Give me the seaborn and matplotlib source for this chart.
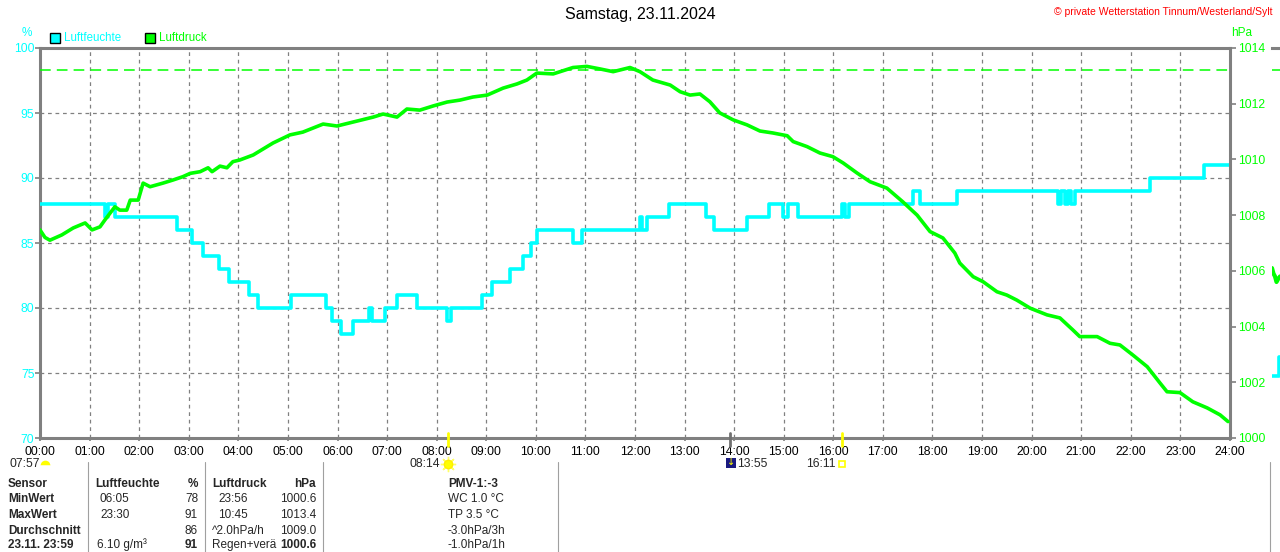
import matplotlib
matplotlib.use("Agg")
import matplotlib.pyplot as plt
import matplotlib.transforms as mtransforms
from matplotlib.patches import Rectangle
from matplotlib.lines import Line2D
import seaborn as sns
import pandas as pd

# ---------------- data ----------------
title = "Samstag, 23.11.2024"
credit = "\u00a9 private Wetterstation Tinnum/Westerland/Sylt"
hour_ticks = list(range(25))
hour_labels = [f"{h:02d}:00" for h in hour_ticks]
hum_ticks = [70, 75, 80, 85, 90, 95, 100]
press_ticks = [1000, 1002, 1004, 1006, 1008, 1010, 1012, 1014]

hum_time = [0.00, 1.31, 1.38, 1.52, 2.76, 3.07, 3.29, 3.61, 3.81, 4.22, 4.40, 5.07,
            5.77, 5.88, 6.08, 6.31, 6.64, 6.70, 6.96, 7.19, 7.60, 8.20, 8.28, 8.91,
            9.11, 9.48, 9.75, 9.90, 10.03, 10.75, 10.93, 12.10, 12.15, 12.24, 12.69,
            13.43, 13.60, 14.25, 14.70, 14.99, 15.08, 15.28, 16.17, 16.24, 16.32,
            17.60, 17.75, 18.50, 20.54, 20.60, 20.67, 20.74, 20.80, 20.87, 22.39,
            23.48, 24.00]
hum_value = [88, 87, 88, 87, 86, 85, 84, 83, 82, 81, 80, 81,
             80, 79, 78, 79, 80, 79, 80, 81, 80, 79, 80, 81,
             82, 83, 84, 85, 86, 85, 86, 87, 86, 87, 88,
             87, 86, 87, 88, 87, 88, 87, 88, 87, 88,
             89, 88, 89, 88, 89, 88, 89, 88, 89, 90,
             91, 91]

press_time = [0.00, 0.10, 0.20, 0.44, 0.67, 0.91, 1.05, 1.21, 1.31, 1.51, 1.61, 1.75,
              1.82, 1.98, 2.08, 2.22, 2.48, 2.68, 2.88, 3.03, 3.23, 3.39, 3.47, 3.63,
              3.77, 3.89, 4.03, 4.30, 4.70, 5.04, 5.30, 5.71, 5.99, 6.31, 6.72, 6.92,
              7.20, 7.40, 7.66, 7.93, 8.21, 8.47, 8.73, 9.02, 9.34, 9.62, 9.82, 10.02,
              10.35, 10.75, 11.03, 11.29, 11.56, 11.90, 12.10, 12.36, 12.71, 12.91,
              13.11, 13.31, 13.51, 13.71, 13.98, 14.26, 14.52, 14.78, 15.07, 15.19,
              15.47, 15.73, 15.99, 16.20, 16.48, 16.74, 17.08, 17.40, 17.69, 17.95,
              18.21, 18.45, 18.55, 18.82, 19.02, 19.30, 19.50, 19.70, 19.97, 20.31,
              20.57, 20.83, 20.97, 21.32, 21.58, 21.78, 22.04, 22.33, 22.59, 22.73,
              22.99, 23.25, 23.54, 23.80, 23.96]
press_value = [1007.47, 1007.20, 1007.10, 1007.29, 1007.54, 1007.72, 1007.47, 1007.58,
               1007.83, 1008.30, 1008.18, 1008.18, 1008.54, 1008.54, 1009.15, 1009.02,
               1009.15, 1009.26, 1009.38, 1009.50, 1009.56, 1009.70, 1009.56, 1009.76,
               1009.70, 1009.92, 1009.98, 1010.16, 1010.59, 1010.88, 1010.98, 1011.27,
               1011.20, 1011.34, 1011.52, 1011.63, 1011.52, 1011.81, 1011.77, 1011.92,
               1012.06, 1012.13, 1012.24, 1012.31, 1012.56, 1012.71, 1012.85, 1013.10,
               1013.07, 1013.30, 1013.34, 1013.25, 1013.15, 1013.30, 1013.15, 1012.85,
               1012.67, 1012.43, 1012.31, 1012.35, 1012.07, 1011.67, 1011.42, 1011.24,
               1011.02, 1010.95, 1010.85, 1010.64, 1010.46, 1010.23, 1010.10, 1009.87,
               1009.51, 1009.20, 1008.97, 1008.48, 1008.00, 1007.41, 1007.18, 1006.64,
               1006.28, 1005.79, 1005.61, 1005.25, 1005.13, 1004.95, 1004.66, 1004.42,
               1004.31, 1003.88, 1003.64, 1003.64, 1003.40, 1003.34, 1002.98, 1002.56,
               1001.97, 1001.66, 1001.63, 1001.30, 1001.08, 1000.83, 1000.59]
press_ref = 1013.2

# fragment of the next chart at the right edge
next_hum_time = [0.0, 0.14, 0.3]
next_hum_value = [74.8, 76.2, 76.2]
next_press_time = [0.0, 0.03, 0.06, 0.09, 0.12, 0.16]
next_press_value = [1006.1, 1005.9, 1005.8, 1005.6, 1005.7, 1005.8]

# events below the axis: (time label, hours)
moon_set = ("07:57", 0.0)
sunrise = ("08:14", 8.233)
moon_event = ("13:55", 13.917)
sunset = ("16:11", 16.183)

# table
table_rows = ["Sensor", "MinWert", "MaxWert", "Durchschnitt", "23.11. 23:59"]
hum_time_col = ["Luftfeuchte", "06:05", "23:30", "", "6.10 g/m\u00b3"]
hum_val_col = ["%", "78", "91", "86", "91"]
press_time_col = ["Luftdruck", "23:56", "10:45", "^2.0hPa/h", "Regen+ver\u00e4"]
press_val_col = ["hPa", "1000.6", "1013.4", "1009.0", "1000.6"]
pmv_col = ["PMV-1:-3", "WC 1.0 \u00b0C", "TP 3.5 \u00b0C", "-3.0hPa/3h", "-1.0hPa/1h"]

# ---------------- style ----------------
sns.set_theme(style="white")
plt.rcParams['font.family'] = ['Liberation Sans', 'DejaVu Sans']
plt.rcParams['axes.unicode_minus'] = False

CYAN = "#00FFFF"
GREEN = "#00FF00"
GREY = "#808080"
W, H = 1280, 552
L, R, T, B = 40, 1230, 48, 438

def fx(x):
    return x / W

def fy(y):
    return 1 - y / H

fig = plt.figure(figsize=(12.8, 5.52), dpi=100)
fig.patch.set_facecolor("white")
ax = fig.add_axes([fx(L), fy(B), (R - L) / W, (B - T) / H])
ax.set_facecolor("white")
ax2 = ax.twinx()

hum_df = pd.DataFrame({"t": hum_time, "v": hum_value})
press_df = pd.DataFrame({"t": press_time, "v": press_value})

sns.lineplot(data=hum_df, x="t", y="v", ax=ax, color=CYAN, lw=2.6,
             drawstyle="steps-post", estimator=None, sort=False, zorder=3)
sns.lineplot(data=press_df, x="t", y="v", ax=ax2, color=GREEN, lw=2.6,
             estimator=None, sort=False, zorder=4)
ref = ax2.axhline(press_ref, color=GREEN, lw=1.1, zorder=2)
ref.set_dashes([7, 4])

ax.set_xlim(0, 24)
ax.set_ylim(70, 100)
ax2.set_ylim(1000, 1014)
ax.set_xlabel("")
ax.set_ylabel("")
ax2.set_ylabel("")

# grid
for h in hour_ticks[1:-1]:
    ax.axvline(h, color=GREY, lw=0.9, dashes=(3, 3), zorder=1)
for v in hum_ticks[1:-1]:
    ax.axhline(v, color=GREY, lw=0.9, dashes=(3, 3), zorder=1)

ax.set_xticks(hour_ticks)
ax.set_xticklabels(hour_labels)
ax.set_yticks(hum_ticks)
ax.set_yticklabels([str(v) for v in hum_ticks])
ax2.set_yticks(press_ticks)
ax2.set_yticklabels([str(v) for v in press_ticks])

ax.tick_params(axis="x", direction="out", length=2.5, width=1.2, color=GREY,
               labelsize=8.7, labelcolor="black", pad=3, bottom=True)
ax.tick_params(axis="y", direction="out", length=3.5, width=1.2, color=GREY,
               labelsize=8.7, labelcolor=CYAN, pad=0.5, left=True)
ax2.tick_params(axis="y", direction="out", length=4.5, width=1.2, color=GREY,
                labelsize=8.7, labelcolor=GREEN, pad=1, right=True)

for s in ax.spines.values():
    s.set_color(GREY)
    s.set_linewidth(2.2)
ax.spines["right"].set_visible(False)
for k, s in ax2.spines.items():
    if k == "right":
        s.set_color(GREY)
        s.set_linewidth(2.2)
    else:
        s.set_visible(False)

# axis unit labels
fig.text(fx(27), fy(33), "%", color=CYAN, fontsize=8.5, ha="center", va="center")
fig.text(fx(1231), fy(33), "hPa", color=GREEN, fontsize=8.5, ha="left", va="center")

# title and credit
fig.text(fx(640), fy(15), title, fontsize=11.5, ha="center", va="center", color="black")
fig.text(fx(1272), fy(12), credit, fontsize=7.5, ha="right", va="center", color="#FF0000")

# legend
for x0, col, lab in [(50, CYAN, "Luftfeuchte"), (145, GREEN, "Luftdruck")]:
    fig.add_artist(Rectangle((fx(x0), fy(43)), 10 / W, 10 / H, transform=fig.transFigure,
                             facecolor=col, edgecolor="black", lw=1.0))
    fig.text(fx(x0 + 14), fy(38), lab, color=col, fontsize=8.3, ha="left", va="center")

# event markers below axis
bt = mtransforms.blended_transform_factory(ax.transData, fig.transFigure)
for (lab, t), col in [(sunrise, "#FFFF00"), (sunset, "#FFFF00"), (moon_event, "#707070")]:
    ax.add_line(Line2D([t, t], [fy(433), fy(446)], transform=bt, color=col, lw=2.0,
                       clip_on=False, zorder=6))

fig.text(fx(9), fy(464), moon_set[0], fontsize=8.7, ha="left", va="center")
ax.plot([moon_set[1] + 0.1], [fy(465)], transform=bt, marker="o", ms=7,
        fillstyle="top", markerfacecolor="#FFFF00", markerfacecoloralt="white",
        markeredgecolor="none", clip_on=False, ls="none")
fig.text(fx(440), fy(464), sunrise[0], fontsize=8.7, ha="right", va="center")
ax.plot([sunrise[1]], [fy(464)], transform=bt, marker=(8, 2, 0), ms=11, color="#FFFF66",
        mew=1.0, clip_on=False, ls="none")
ax.plot([sunrise[1]], [fy(464)], transform=bt, marker="o", ms=6, color="#FFFF00",
        markeredgecolor="#FFEE00", clip_on=False, ls="none")
fig.add_artist(Rectangle((fx(726), fy(468)), 10 / W, 10 / H, transform=fig.transFigure,
                         facecolor="#1A1A80", edgecolor="none"))
fig.text(fx(731), fy(462), "\u2193", fontsize=7, color="#FFFF00", ha="center", va="center",
         family="DejaVu Sans")
fig.text(fx(737), fy(464), moon_event[0], fontsize=8.7, ha="left", va="center")
fig.text(fx(836), fy(464), sunset[0], fontsize=8.7, ha="right", va="center")
ax.plot([sunset[1]], [fy(464)], transform=bt, marker="s", ms=4.5, markerfacecolor="white",
        markeredgecolor="#FFFF00", mew=1.2, clip_on=False, ls="none")

# table
row_y = [484, 499.5, 515, 530.5, 545]
for i, y in enumerate(row_y):
    bold_row = (i == 0)
    fig.text(fx(8), fy(y), table_rows[i], fontsize=8.5, fontweight="bold", ha="left", va="center")
    fig.text(fx(95 if bold_row else 100) if i != 4 else fx(97), fy(y), hum_time_col[i],
             fontsize=8.5, fontweight="bold" if bold_row else "normal", ha="left", va="center")
    fig.text(fx(198), fy(y), hum_val_col[i], fontsize=8.5,
             fontweight="bold" if (bold_row or i == 4) else "normal", ha="right", va="center")
    fig.text(fx(212 if (bold_row or i >= 3) else 218), fy(y), press_time_col[i], fontsize=8.5,
             fontweight="bold" if bold_row else "normal", ha="left", va="center")
    fig.text(fx(316), fy(y), press_val_col[i], fontsize=8.5,
             fontweight="bold" if (bold_row or i == 4) else "normal", ha="right", va="center")
    fig.text(fx(448), fy(y), pmv_col[i], fontsize=8.5,
             fontweight="bold" if bold_row else "normal", ha="left", va="center")

for xs in [88, 205, 323, 558, 1270]:
    fig.add_artist(Line2D([fx(xs), fx(xs)], [fy(462), 0.0], transform=fig.transFigure,
                          color="#A0A0A0", lw=0.8))

# fragment of the following chart at the right edge
axf = fig.add_axes([fx(1272), fy(B), 100 / W, (B - T) / H])
axf.set_xlim(0, 2)
axf.set_ylim(70, 100)
axf.patch.set_alpha(0)
axf2 = axf.twinx()
axf2.set_ylim(1000, 1014)
sns.lineplot(x=next_hum_time, y=next_hum_value, ax=axf, color=CYAN, lw=2.6,
             drawstyle="steps-post", estimator=None, sort=False)
sns.lineplot(x=next_press_time, y=next_press_value, ax=axf2, color=GREEN, lw=3.0,
             estimator=None, sort=False)
fr = axf2.axhline(press_ref, color=GREEN, lw=1.1)
fr.set_dashes([7, 4])
for a in (axf, axf2):
    for k, s in a.spines.items():
        s.set_visible(False)
    a.set_xticks([])
    a.set_yticks([])
axf.spines["top"].set_visible(True)
axf.spines["top"].set_color(GREY)
axf.spines["top"].set_linewidth(2.2)

fig.savefig("out.png", dpi=100, facecolor="white")
